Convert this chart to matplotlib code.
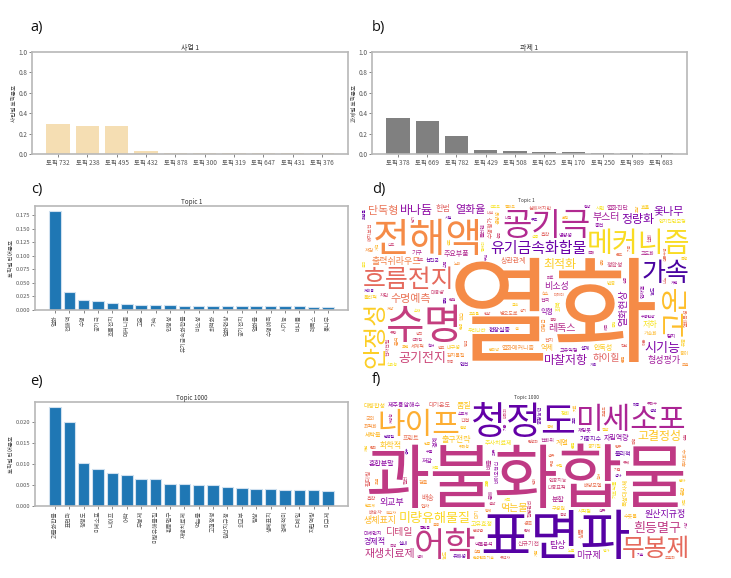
import numpy as np
import matplotlib
matplotlib.use('Agg')
import matplotlib.pyplot as plt
from matplotlib.textpath import TextPath
from matplotlib.font_manager import FontProperties
from matplotlib.transforms import Affine2D

plt.rcParams['font.family'] = ['Noto Sans CJK KR', 'DejaVu Sans']
KR = 'Noto Sans CJK KR'
FP = FontProperties(family=KR)
FW, FH, DPI = 731, 578, 100

# ---------------- data ----------------
a_labels = ['토픽 732', '토픽 238', '토픽 495', '토픽 432', '토픽 878',
            '토픽 300', '토픽 319', '토픽 647', '토픽 431', '토픽 376']
a_values = [0.295, 0.279, 0.276, 0.032, 0.013, 0.010, 0.009, 0.008, 0.008, 0.007]

b_labels = ['토픽 378', '토픽 669', '토픽 782', '토픽 429', '토픽 508',
            '토픽 625', '토픽 170', '토픽 250', '토픽 989', '토픽 683']
b_values = [0.349, 0.324, 0.179, 0.042, 0.032, 0.022, 0.016, 0.010, 0.009, 0.008]

c_words = ['열화', '전해액', '수명', '공기극', '흐름전지', '메커니즘', '고온', '가속',
           '안정성', '유기금속화합물', '비소성', '최적화', '열화현상', '공기전지', '열화율',
           '수명예측', '시기능', '바나듐', '레독스', '옻나무']
c_values = [0.183, 0.0325, 0.0178, 0.0166, 0.0129, 0.0111, 0.0098, 0.0088, 0.0085,
            0.0081, 0.0079, 0.0077, 0.0076, 0.0075, 0.0073, 0.0071, 0.0069, 0.0067,
            0.0063, 0.0052]

e_words = ['과불화합물', '표면파', '청정도', '미세소포', '나이프', '어학', '무봉제',
           '미량유해물질', '흰등멸구', '재생치료제', '먹는물', '고결정성', '원산지규정',
           '외교부', '탐상', '생체표지', '경제적미', '디테일', '자립역량', '미규제']
e_values = [0.0236, 0.0200, 0.0103, 0.0087, 0.0079, 0.0074, 0.0065, 0.0064, 0.0053,
            0.0052, 0.0051, 0.0050, 0.0045, 0.0042, 0.0040, 0.0040, 0.0038, 0.0037,
            0.0037, 0.0035]

cloud1_words = ['열화', '전해액', '수명', '공기극', '메커니즘', '흐름전지', '안정성', '고온',
                '가속', '유기금속화합물', '공기전지', '시기능', '바나듐', '정량화', '마찰저항',
                '최적화', '수명예측', '옻나무', '열화율', '레독스', '부스터', '하이힐', '단독형',
                '열화현상', '형성평가', '비소성', '출력쉬라우드', '주요부품', '헌법', '저하',
                '억제', '익형', '상관관계', '정확성', '안독성', '현장실증', '열화메커니즘',
                '열화진단', '수명평가', '인지진단모형', '경향성', '고유익형', '세계적',
                '전자전달', '물리적', '선진국', '대형급', '기구', '심해저지반', '회복',
                '가속화', '영향성', '열화특성', '대용량', '내구성', '농도', '저감', '고도화',
                '예지보전', '시편', '용이', '인자별', '병오도로', '차단', '유동', '안전',
                '감지물질', '플러렌', '흡착', '우리나라', '학습', '탐지', '전지', '산화',
                '반응', '설계', '분석', '전극', '양극', '음극', '분리막', '충전', '방전',
                '용량', '효율', '출력', '저장', '촉매', '나노', '소재', '코팅', '부식',
                '온도', '습도', '환경', '시험', '모델', '예측', '진단', '신뢰성', '고장',
                '센서', '데이터', '성능', '특성', '구조', '균열', '피로', '하중', '응력',
                '열화도', '수명연장', '잔존수명', '전해질', '금속', '화합물', '산소', '환원',
                '이온', '전도도', '셀', '스택', '펌프', '유량', '점도', '가혹', '노화',
                '실증', '현장', '검증', '개선', '향상', '장기', '단기', '고효율', '저비용',
                '경량', '내열', '내식', '열처리', '표면', '계면', '기공', '밀도', '강도']
cloud1_weights = [115, 40, 42, 32, 30, 30, 24, 28, 26, 15, 13, 13, 12, 12, 12, 12, 11, 11,
                  11, 10, 10, 10, 11, 10, 9, 9, 9, 7, 8, 8, 7, 7, 7, 6, 7, 6, 6, 6, 6, 5,
                  5, 5, 5, 5, 5, 5, 5, 6, 5, 6, 5, 5, 5, 5, 5, 5, 5, 5, 5, 5, 5, 5, 5, 5,
                  5, 5, 5, 5, 5, 5, 5, 5, 5, 5, 5, 5, 5, 5, 4, 4, 4, 5, 4, 4, 5, 4, 4, 4,
                  4, 4, 4, 4, 4, 4, 4, 4, 4, 4, 4, 4, 4, 4, 4, 4, 4, 4, 4, 4, 4, 4,
                  4, 4, 4, 4, 4, 4, 4, 4, 4, 4, 4, 4, 4, 4, 4, 4, 4, 4, 4, 4, 4, 4, 4, 4,
                  4, 4, 4, 4, 4, 4, 4, 4, 4, 4]

cloud2_words = ['과불화합물', '표면파', '청정도', '미세소포', '어학', '나이프', '무봉제',
                '미량유해물질', '흰등멸구', '재생치료제', '고결정성', '디테일', '외교부',
                '경제적', '원산지규정', '먹는물', '생체표지', '탐상', '미규제', '자립역량',
                '화학적', '품질', '계열', '혼합분말', '배송', '제주용암해수', '출구전략',
                '분할', '대기온도', '고유효정', '세탁물', '경계', '프린트', '신규기전',
                '독성대사체', '물리적', '최적화', '배출', '배송자', '주사치료제', '혼합',
                '채팅봇', '경축', '질병관리', '구성원', '가중지수', '투자회수', '약물분석',
                '간접', '기호식품', '수돗물', '저감', '상품', '다중표적', '대량합성',
                '공정능력', '국외', '전화위', '필터링', '시작점', '환경관리기술', '바이오혁신',
                '배양모델', '인공지능', '농도', '유해성', '검출', '분해', '흡착', '정화',
                '대기', '미세먼지', '입자', '필터', '공기질', '실내', '오염', '측정',
                '분석법', '표준', '인증', '수출', '무역', '관세', '협정', '교육', '학습자',
                '영어', '언어', '평가', '봉제', '의류', '섬유', '접착', '재단', '해충',
                '방제', '저항성', '유전자', '세포', '치료', '소포체', '초음파', '비파괴',
                '결함', '검사', '센서', '주파수', '탄성파', '균열', '반도체', '클린룸',
                '오염도', '공정', '수질', '정수', '음용', '잔류', '독성', '노출', '위해성',
                '기준', '관리', '규제', '제도', '정책', '산업', '시장', '기업', '제품',
                '개발', '기술', '연구', '실험', '분자', '단백질']
cloud2_weights = [70, 58, 38, 32, 34, 30, 28, 13, 13, 11, 12, 10, 9, 8, 9, 10, 9, 9, 9, 7,
                  8, 8, 7, 7, 7, 7, 8, 7, 6, 6, 6, 6, 6, 6, 6, 6, 5, 6, 5, 6, 5, 5, 5, 5,
                  5, 6, 5, 5, 5, 5, 5, 6, 6, 5, 6, 5, 5, 5, 6, 5, 5, 5, 5, 5, 5, 5, 5, 5,
                  5, 5, 5, 5, 5, 5, 5, 5, 4, 4, 4, 4, 4, 4, 4, 4, 4, 4, 4, 4, 4, 4, 4, 4,
                  4, 4, 4, 4, 4, 4, 4, 4, 4, 4, 4, 4, 4, 4, 4, 4, 4, 4, 4, 4, 4, 4, 4, 4,
                  4, 4, 4, 4, 4, 4, 4, 4, 4, 4, 4, 4, 4, 4, 4, 4, 4, 4, 4, 4]

# ---------------- styles for clouds ----------------
c1_vert_top = {'안정성', '고온', '열화현상', '수명평가'}
c1_col_top = [0.72, 0.72, 0.47, 0.40, 0.93, 0.62, 0.90, 0.86, 0.12, 0.20, 0.50, 0.25,
              0.30, 0.25, 0.30, 0.90, 0.65, 0.25, 0.30, 0.42, 0.35, 0.60, 0.65, 0.30,
              0.35, 0.35, 0.70]
c2_col_top = [0.45, 0.15, 0.18, 0.38, 0.45, 0.82, 0.62, 0.92, 0.45, 0.45, 0.88, 0.50,
              0.30, 0.25, 0.25, 0.88, 0.85, 0.30, 0.30, 0.30, 0.88, 0.88, 0.85, 0.30,
              0.62, 0.30, 0.88]
cycle = [0.85, 0.30, 0.65, 0.50, 0.90, 0.20, 0.75, 0.40, 0.60, 0.95]


def make_styles(words, col_top, vert_top, ntop):
    verts, cols = [], []
    for k, w in enumerate(words):
        if k < ntop:
            verts.append(w in vert_top)
        else:
            verts.append(k % 3 == 1)
        cols.append(col_top[k] if k < len(col_top) else cycle[k % len(cycle)])
    return verts, cols


def px_axes(fig, l, t, r, b):
    return fig.add_axes([l / FW, 1 - b / FH, (r - l) / FW, (b - t) / FH])


def draw_cloud(ax, W, H, words, weights, verts, cols, seed, anchor):
    """Greedy word-cloud layout; the first (largest) word goes to the free spot
    nearest the anchor fraction, the rest to random free spots."""
    rng = np.random.default_rng(seed)
    cmap = plt.get_cmap('plasma')
    occ = np.zeros((H, W), dtype=np.int32)
    ax.set_xlim(0, W)
    ax.set_ylim(0, H)
    ax.axis('off')
    order = np.argsort(-np.asarray(weights, dtype=float), kind='stable')
    for n, k in enumerate(order):
        word = words[k]
        size = float(weights[k])
        vert = verts[k]
        placed = None
        while size >= 3.0:
            tp = TextPath((0, 0), word, size=size, prop=FP)
            if vert:
                tp = tp.transformed(Affine2D().rotate_deg(90))
            ext = tp.get_extents()
            bw = int(np.ceil(ext.width)) + 2
            bh = int(np.ceil(ext.height)) + 2
            if bw < W and bh < H:
                S = np.zeros((H + 1, W + 1), np.int64)
                S[1:, 1:] = occ.cumsum(0).cumsum(1)
                box = S[bh:, bw:] - S[:-bh, bw:] - S[bh:, :-bw] + S[:-bh, :-bw]
                free = np.argwhere(box == 0)
                if len(free):
                    if n == 0:
                        cy = anchor[1] * H - bh / 2
                        cx = anchor[0] * W - bw / 2
                        d = (free[:, 0] - cy) ** 2 + (free[:, 1] - cx) ** 2
                        i, j = free[np.argmin(d)]
                    else:
                        i, j = free[rng.integers(len(free))]
                    placed = (i, j, tp, ext, bw, bh, size)
                    break
            size -= max(1.0, size * 0.06)
        if placed is None:
            continue
        i, j, tp, ext, bw, bh, size = placed
        ox = j + 1 - ext.x0
        oy = i + 1 - ext.y0
        if size >= 9:
            tps = tp.transformed(Affine2D().translate(ox, oy))
            gx, gy = np.meshgrid(np.arange(j, j + bw) + 0.5, np.arange(i, i + bh) + 0.5)
            ins = tps.contains_points(np.column_stack([gx.ravel(), gy.ravel()])).reshape(bh, bw)
            m = ins.copy()
            m[1:] |= ins[:-1]
            m[:-1] |= ins[1:]
            m[:, 1:] |= ins[:, :-1]
            m[:, :-1] |= ins[:, 1:]
        else:
            m = np.ones((bh, bw), bool)
        occ[i:i + bh, j:j + bw] |= m
        ax.text(ox, oy, word, fontsize=size * 72 / DPI, family=KR, color=cmap(cols[k]),
                ha='left', va='baseline', rotation=90 if vert else 0,
                rotation_mode='anchor')


def style_bar_axes(ax, lab=4):
    for sp in ax.spines.values():
        sp.set_color('#b8b8b8')
        sp.set_linewidth(1.2)
    ax.tick_params(colors='#555555', labelsize=lab, length=2, width=0.5, pad=1.5)


fig = plt.figure(figsize=(FW / DPI, FH / DPI), dpi=DPI)

# a)
ax = px_axes(fig, 32, 52, 348, 154)
ax.bar(range(len(a_values)), a_values, color='#f5deb3', width=0.8)
ax.set_xticks(range(len(a_labels)))
ax.set_xticklabels(a_labels)
ax.set_ylim(0, 1.0)
ax.set_title('사업 1', fontsize=5, pad=1.5, color='#333333')
ax.set_ylabel('사업별 토픽분포', fontsize=4, labelpad=1, color='#444444')
style_bar_axes(ax, 4.6)

# b)
ax = px_axes(fig, 372, 52, 687, 154)
ax.bar(range(len(b_values)), b_values, color='#808080', width=0.8)
ax.set_xticks(range(len(b_labels)))
ax.set_xticklabels(b_labels)
ax.set_ylim(0, 1.0)
ax.set_title('과제 1', fontsize=5, pad=1.5, color='#333333')
ax.set_ylabel('과제별 토픽분포', fontsize=4, labelpad=1, color='#444444')
style_bar_axes(ax, 4.6)

# c)
ax = px_axes(fig, 35, 206, 348, 310)
ax.bar(range(len(c_values)), c_values, color='#1f77b4', width=0.8,
       edgecolor='#cfe0ef', linewidth=0.8)
ax.set_xticks(range(len(c_words)))
ax.set_xticklabels(c_words, rotation=90)
ax.set_title('Topic 1', fontsize=4.5, pad=1.5, color='#333333')
ax.set_ylabel('토픽별 단어분포', fontsize=4, labelpad=1, color='#444444')
style_bar_axes(ax, 4.2)

# e)
ax = px_axes(fig, 35, 402, 348, 506)
ax.bar(range(len(e_values)), e_values, color='#1f77b4', width=0.8,
       edgecolor='#cfe0ef', linewidth=0.8)
ax.set_xticks(range(len(e_words)))
ax.set_xticklabels(e_words, rotation=90)
ax.set_title('Topic 1000', fontsize=4.5, pad=1.5, color='#333333')
ax.set_ylabel('토픽별 단어분포', fontsize=4, labelpad=1, color='#444444')
style_bar_axes(ax, 4.2)

# d) word cloud
v1, c1 = make_styles(cloud1_words, c1_col_top, c1_vert_top, 40)
ax = px_axes(fig, 362, 203, 690, 367)
draw_cloud(ax, 328, 164, cloud1_words, cloud1_weights, v1, c1, seed=11,
           anchor=(0.59, 0.35))
ax.set_title('Topic 1', fontsize=3.5, pad=1, color='#333333')

# f) word cloud
v2, c2 = make_styles(cloud2_words, c2_col_top, set(), 30)
ax = px_axes(fig, 363, 400, 689, 560)
draw_cloud(ax, 326, 160, cloud2_words, cloud2_weights, v2, c2, seed=5,
           anchor=(0.5, 0.53))
ax.set_title('Topic 1000', fontsize=3.5, pad=1, color='#333333')

# panel letters
for txt, x, y in [('a)', 30, 28), ('b)', 372, 28), ('c)', 31, 190),
                  ('d)', 372, 190), ('e)', 30, 382), ('f)', 372, 380)]:
    fig.text(x / FW, 1 - y / FH, txt, fontsize=10.5, va='center', ha='left',
             family=['Open Sans', 'DejaVu Sans'], color='#111111')

fig.savefig('out.png', dpi=DPI)
